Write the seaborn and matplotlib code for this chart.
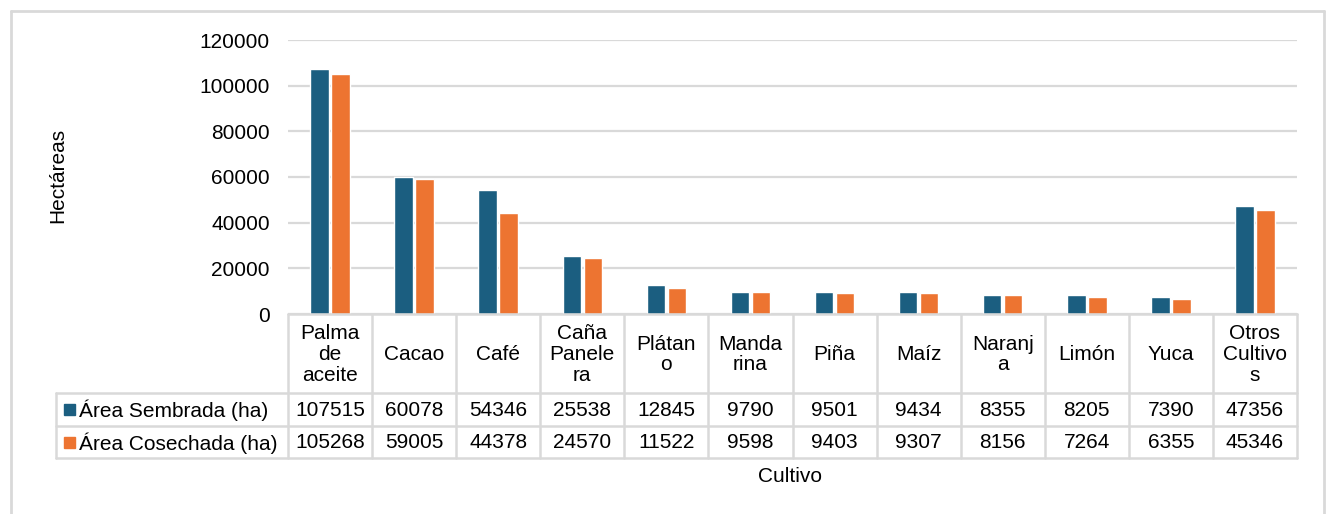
import matplotlib
matplotlib.use("Agg")
import matplotlib.pyplot as plt
import seaborn as sns
import pandas as pd
from matplotlib.lines import Line2D
from matplotlib.patches import Rectangle

# Crop areas (hectares)
cultivos = ["Palma de aceite", "Cacao", "Café", "Caña Panelera", "Plátano", "Mandarina",
            "Piña", "Maíz", "Naranja", "Limón", "Yuca", "Otros Cultivos"]
header_labels = ["Palma\nde\naceite", "Cacao", "Café", "Caña\nPanele\nra", "Plátan\no",
                 "Manda\nrina", "Piña", "Maíz", "Naranj\na", "Limón", "Yuca", "Otros\nCultivo\ns"]
sembrada = [107515, 60078, 54346, 25538, 12845, 9790, 9501, 9434, 8355, 8205, 7390, 47356]
cosechada = [105268, 59005, 44378, 24570, 11522, 9598, 9403, 9307, 8156, 7264, 6355, 45346]
series = ["Área Sembrada (ha)", "Área Cosechada (ha)"]
yticks = [0, 20000, 40000, 60000, 80000, 100000, 120000]

colors = ["#1B5E80", "#ED7431"]
grid_c = "#D9D9D9"

df = pd.DataFrame({
    "Cultivo": cultivos * 2,
    "Serie": [series[0]] * len(cultivos) + [series[1]] * len(cultivos),
    "Hectáreas": sembrada + cosechada,
})

sns.set_theme(style="white")
plt.rcParams["font.family"] = ["Liberation Sans", "DejaVu Sans"]

W, H = 1327, 514
fig = plt.figure(figsize=(W / 100, H / 100), dpi=100)

def fx(px):
    return px / W

def fy(py):
    return 1 - py / H

# plot area in pixel coordinates
x0, x1 = 288, 1297
y_top, y_base = 40, 314
ax = fig.add_axes([fx(x0), fy(y_base), fx(x1) - fx(x0), fy(y_top) - fy(y_base)])

sns.barplot(data=df, x="Cultivo", y="Hectáreas", hue="Serie", palette=colors,
            width=0.5, gap=0.12, ax=ax, legend=False, saturation=1)

ax.set_ylim(0, 120000)
ax.set_xlim(-0.5, len(cultivos) - 0.5)
ax.set_yticks(yticks)
ax.set_yticklabels([str(v) for v in yticks], fontsize=15, color="#000000")
ax.tick_params(axis="y", length=0, pad=13)
ax.set_xticks([])
ax.set_xlabel("")
ax.set_ylabel("")
ax.yaxis.grid(True, color=grid_c, linewidth=1.6)
ax.set_axisbelow(True)
for s in ax.spines.values():
    s.set_visible(False)

# data table below the plot area
n = len(cultivos)
cw = (x1 - x0) / n
r0, r1, r2, r3 = 314, 393, 426, 458
tab_left = 56
lw = 1.8

def hline(xa, xb, yy):
    fig.add_artist(Line2D([fx(xa), fx(xb)], [fy(yy), fy(yy)], color=grid_c, lw=lw))

def vline(xx, ya, yb):
    fig.add_artist(Line2D([fx(xx), fx(xx)], [fy(ya), fy(yb)], color=grid_c, lw=lw))

hline(x0, x1, r0)
hline(tab_left, x1, r1)
hline(tab_left, x1, r2)
hline(tab_left, x1, r3)
for k in range(n + 1):
    vline(x0 + k * cw, r0, r3)
vline(tab_left, r1, r3)

for i, lab in enumerate(header_labels):
    cx = x0 + (i + 0.5) * cw
    fig.text(fx(cx), fy((r0 + r1) / 2 + 1), lab, ha="center", va="center",
             fontsize=15, linespacing=1.12, color="#000000")
    fig.text(fx(cx), fy((r1 + r2) / 2 + 1), str(sembrada[i]), ha="center", va="center",
             fontsize=15, color="#000000")
    fig.text(fx(cx), fy((r2 + r3) / 2 + 1), str(cosechada[i]), ha="center", va="center",
             fontsize=15, color="#000000")

# legend keys inside the row-header column
for j, (name, ypair) in enumerate(zip(series, [(r1, r2), (r2, r3)])):
    cy = (ypair[0] + ypair[1]) / 2
    fig.add_artist(Rectangle((fx(64), fy(cy + 5.5)), fx(11), fy(0) - fy(11),
                             color=colors[j], transform=fig.transFigure))
    fig.text(fx(79), fy(cy + 1), name, ha="left", va="center", fontsize=15, color="#000000")

# axis titles
fig.text(fx(58), fy(175), "Hectáreas", rotation=90, ha="center", va="center",
         fontsize=15, color="#000000")
fig.text(fx(790), fy(476), "Cultivo", ha="center", va="center", fontsize=15, color="#000000")

# chart area frame
frame_c = "#D9D9D9"
fig.add_artist(Line2D([fx(11), fx(11)], [fy(11), 0], color=frame_c, lw=2))
fig.add_artist(Line2D([fx(11), fx(1324)], [fy(11), fy(11)], color=frame_c, lw=2))
fig.add_artist(Line2D([fx(1324), fx(1324)], [fy(11), 0], color=frame_c, lw=2))

fig.savefig("out.png", dpi=100, facecolor="white")
